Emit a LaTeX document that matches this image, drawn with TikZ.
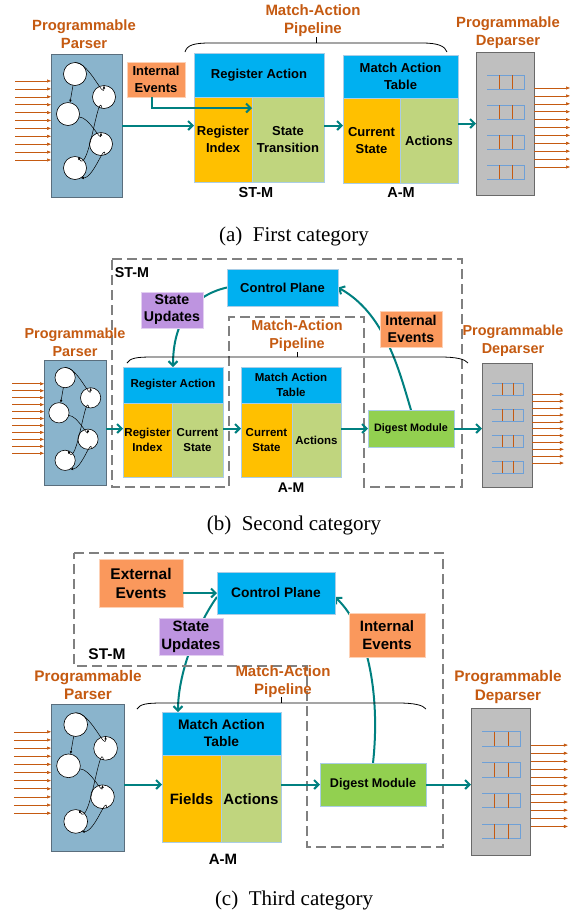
\documentclass[tikz,border=0pt]{standalone}
\usepackage{fontspec}
\setmainfont{Liberation Serif}
\newfontfamily\labelfont{Liberation Sans}
\usetikzlibrary{arrows.meta}
\pgfdeclarelayer{back}
\pgfsetlayers{back,main}

\definecolor{cpblue}{RGB}{0,176,240}
\definecolor{keyorange}{RGB}{255,192,0}
\definecolor{valgreen}{RGB}{192,213,126}
\definecolor{digestgreen}{RGB}{146,208,80}
\definecolor{eventorange}{RGB}{250,152,92}
\definecolor{updpurple}{RGB}{190,148,224}
\definecolor{parserblue}{RGB}{138,180,204}
\definecolor{parseredge}{RGB}{90,110,125}
\definecolor{depgray}{RGB}{191,191,191}
\definecolor{depedge}{RGB}{105,105,105}
\definecolor{flowteal}{RGB}{0,128,128}
\definecolor{rust}{RGB}{197,90,17}
\definecolor{queueblue}{RGB}{110,160,215}
\definecolor{celledge}{RGB}{170,205,230}
\definecolor{dashgray}{RGB}{128,128,128}

\newcommand\sansat[2]{\labelfont\fontsize{#1}{#2}\selectfont\bfseries}

\tikzset{
  every node/.style={inner sep=0pt, outer sep=0pt},
  cell/.style={draw=celledge, line width=0.7pt, align=center, text=black},
  evt/.style={fill=eventorange, draw=white!55!eventorange, line width=0.7pt, align=center},
  upd/.style={fill=updpurple, draw=white!55!updpurple, line width=0.7pt, align=center},
  title/.style={text=rust, align=center},
  tag/.style={text=black},
  flow/.style={draw=flowteal, line width=2pt, -{Straight Barb[length=4.5pt,width=9pt]}},
  region/.style={draw=dashgray, line width=1.4pt, dash pattern=on 10pt off 5pt},
  brace/.style={draw=black, line width=0.8pt},
  feed/.style={draw=rust, line width=0.6pt, -{Triangle[length=4pt,width=3pt]}},
  state/.style={circle, draw=black, line width=0.6pt, fill=white, minimum size=23pt},
  hop/.style={draw=black, line width=0.5pt, -{Latex[length=3pt,width=2.5pt]}},
  caption/.style={font=\fontsize{21}{24}\selectfont},
  pics/parser/.style={code={
    \node[draw=parseredge, line width=0.8pt, fill=parserblue, minimum width=71pt,
          minimum height=143pt, anchor=north west] (-box) at (0,0) {};
    \node[state] (-c1) at (24,20) {};
    \node[state] (-c2) at (53,43) {};
    \node[state] (-c3) at (17,60) {};
    \node[state] (-c4) at (50,90) {};
    \node[state] (-c5) at (24,114) {};
    \draw[hop] (-c1.north) to[out=0,in=270] (-c2.north);
    \draw[hop] (-c1) -- (-c3);
    \draw[hop] (-c3.-15) to[out=0,in=270] (-c4.north);
    \draw[hop] (-c2.-100) to[out=100,in=300] (-c5.75);
    \draw[hop] (-c4.-70) to[out=90,in=0] (-c5.-60);
    \foreach \k in {0,...,10} \draw[feed] (-36,{27+7.9*\k}) -- (0,{27+7.9*\k});
  }},
  pics/deparser/.style={code={
    \node[draw=depedge, line width=0.8pt, fill=depgray, minimum width=58pt,
          minimum height=143pt, anchor=north west] (-box) at (0,0) {};
    \foreach \q in {30,60,90,120} {
      \draw[queueblue, line width=1pt] (11,\q-7) -- (48,\q-7) -- (48,\q+7) -- (11,\q+7);
      \draw[rust, line width=1pt] (23,\q-7) -- (23,\q+7) (36,\q-7) -- (36,\q+7);
    }
    \foreach \k in {0,...,10} \draw[feed] (58,{36+7.9*\k}) -- (94,{36+7.9*\k});
  }},
}

\begin{document}
\begin{tikzpicture}[x=1pt,y=-1pt]
\begin{pgfonlayer}{back}
  \fill[white] (0,0) rectangle (584,914);
\end{pgfonlayer}
\useasboundingbox (0,0) rectangle (584,914);

% ---------------- (a) First category ----------------
\node[title, font=\sansat{14.8}{18}] (parsera) at (84,34.5) {Programmable\\Parser};
\pic (pa) at (51,54) {parser};
\node[title, font=\sansat{14.8}{18}] (depa) at (508,33) {Programmable\\Deparser};
\pic (da) at (476,52) {deparser};
\node[title, font=\sansat{15}{18}] (mapa) at (313,21) {Match-Action\\Pipeline};
\draw[brace] (185,52) .. controls (187,45) and (194,43) .. (210,43) -- (422,43)
             .. controls (438,43) and (445,46) .. (447,52);
\draw[brace] (316,43) -- (316,37);

\node[evt, minimum width=58pt, minimum height=35pt, font=\sansat{13}{16.5}] (iea) at (156,79.5) {Internal\\Events};
\node[cell, fill=cpblue, minimum width=130pt, minimum height=44pt, font=\sansat{13}{16.5}] (raa) at (259,75) {Register Action};
\node[cell, fill=keyorange, minimum width=58pt, minimum height=85pt, font=\sansat{13}{16.5}] (ria) at (223,139.5) {Register\\Index};
\node[cell, fill=valgreen, minimum width=72pt, minimum height=85pt, font=\sansat{13}{16.5}] (sta) at (288,139.5) {State\\Transition};
\node[tag, font=\sansat{14.5}{17}] (stma) at (256,193) {ST-M};
\node[cell, fill=cpblue, minimum width=115pt, minimum height=43pt, font=\sansat{13}{16.5}] (mata) at (400.5,76.5) {Match Action\\Table};
\node[cell, fill=keyorange, minimum width=57pt, minimum height=85pt, font=\sansat{13}{16.5}] (csa) at (371.5,140.5) {Current\\State};
\node[cell, fill=valgreen, minimum width=58pt, minimum height=85pt, font=\sansat{13}{16.5}] (aca) at (429,140.5) {Actions};
\node[tag, font=\sansat{14.5}{17}] (ama) at (401,193) {A-M};

\draw[flow] (pa-box.east) -- (pa-box.east -| ria.west);
\draw[flow] ([xshift=-4pt]iea.south) |- ([yshift=31.5pt]sta.west);
\draw[flow] (sta.east |- pa-box.east) -- (csa.west |- pa-box.east);
\draw[flow] (aca.east |- da-box.west) -- (da-box.west);

\node[caption] (capa) at (294,236) {(a)\hspace{0.5em}First category};

% ---------------- (b) Second category ----------------
\draw[region] (112,259) -- (462,259) -- (462,487) -- (364,487) -- (364,317)
              -- (229,317) -- (229,487) -- (112,487) -- cycle;
\node[tag, font=\sansat{14.3}{17}] (stmb) at (132,273) {ST-M};
\node[cell, fill=cpblue, minimum width=111pt, minimum height=37pt, font=\sansat{13}{16}] (cpb) at (282.5,287.5) {Control Plane};
\node[upd, minimum width=62pt, minimum height=36pt, font=\sansat{14.2}{17}] (sub) at (172,310) {State\\Updates};
\node[evt, minimum width=62pt, minimum height=36pt, font=\sansat{14.2}{17}] (ieb) at (411,329) {Internal\\Events};
\node[title, font=\sansat{14.4}{17.5}] (mapb) at (297,336) {Match-Action\\Pipeline};
\node[title, font=\sansat{14.4}{18}] (parserb) at (75,342) {Programmable\\Parser};
\node[title, font=\sansat{14.4}{18}] (depb) at (513,341) {Programmable\\Deparser};
\pic[scale=0.88, transform shape] (pb) at (44,360) {parser};
\pic[scale=0.87, transform shape] (db) at (482,363) {deparser};
\draw[brace] (127,363) .. controls (130,358) and (137,357) .. (152,357) -- (440,357)
             .. controls (456,357) and (465,359) .. (468,363);
\draw[brace] (297,357) -- (297,352);

\node[cell, fill=cpblue, minimum width=100pt, minimum height=36pt, font=\sansat{11.5}{14.5}] (rab) at (173,385) {Register Action};
\node[cell, fill=keyorange, minimum width=49pt, minimum height=74pt, font=\sansat{11.5}{14.5}] (rib) at (147.5,440) {Register\\Index};
\node[cell, fill=valgreen, minimum width=51pt, minimum height=74pt, font=\sansat{11.5}{14.5}] (csb) at (197.5,440) {Current\\State};
\node[cell, fill=cpblue, minimum width=100pt, minimum height=36pt, font=\sansat{11.5}{14.5}] (matb) at (291,385) {Match Action\\Table};
\node[cell, fill=keyorange, minimum width=51pt, minimum height=74pt, font=\sansat{11.5}{14.5}] (cmb) at (266.5,440) {Current\\State};
\node[cell, fill=valgreen, minimum width=49pt, minimum height=74pt, font=\sansat{11.5}{14.5}] (acb) at (316.5,440) {Actions};
\node[tag, font=\sansat{14}{17}] (amb) at (291,488) {A-M};
\node[cell, fill=digestgreen, minimum width=86pt, minimum height=37pt, font=\sansat{10.8}{13}] (dgb) at (411,428.5) {Digest Module};

\draw[flow] (pb-box.east |- dgb.west) -- (rib.west |- dgb.west);
\draw[flow] (csb.east |- dgb.west) -- (cmb.west |- dgb.west);
\draw[flow] (acb.east |- dgb.west) -- (dgb.west);
\draw[flow] (dgb.east) -- (dgb.east -| db-box.west);
\begin{pgfonlayer}{back}
  \draw[flow] (cpb.west) .. controls +(-35,8) and +(0,-45) .. (rab.north);
  \draw[flow] (dgb.north) .. controls +(-12,-40) and +(47,26) .. (cpb.east);
\end{pgfonlayer}

\node[caption] (capb) at (294,525) {(b)\hspace{0.5em}Second category};

% ---------------- (c) Third category ----------------
\draw[region] (74,553) -- (443,553) -- (443,847) -- (307,847) -- (307,666)
              -- (74,666) -- cycle;
\node[evt, minimum width=84pt, minimum height=48pt, font=\sansat{15.5}{19}] (eec) at (141,583) {External\\Events};
\node[cell, fill=cpblue, minimum width=118pt, minimum height=42pt, font=\sansat{13.8}{17}] (cpc) at (276,593) {Control Plane};
\node[upd, minimum width=64pt, minimum height=37pt, font=\sansat{15}{18}] (suc) at (191,636.5) {State\\Updates};
\node[evt, minimum width=76pt, minimum height=44pt, font=\sansat{15}{18.5}] (iec) at (387,635) {Internal\\Events};
\node[tag, font=\sansat{15.5}{18}] (stmc) at (107,654) {ST-M};
\node[title, font=\sansat{15.3}{18}] (parserc) at (88,685) {Programmable\\Parser};
\node[title, font=\sansat{15}{18}] (mapc) at (283,682) {Match-Action\\Pipeline};
\node[title, font=\sansat{15.3}{19}] (depc) at (508,687) {Programmable\\Deparser};
\pic[scale=1.03, transform shape] (pc) at (51,704) {parser};
\pic[scale=1.03, transform shape] (dc) at (471,708) {deparser};
\draw[brace] (137,709) .. controls (140,704) and (147,703) .. (162,703) -- (398,703)
             .. controls (414,703) and (423,705) .. (426,709);
\draw[brace] (281,703) -- (281,697);

\node[cell, fill=cpblue, minimum width=119pt, minimum height=43pt, font=\sansat{13.8}{17}] (matc) at (221.5,733.5) {Match Action\\Table};
\node[cell, fill=keyorange, minimum width=59pt, minimum height=87pt, font=\sansat{15}{18}] (fdc) at (191.5,799) {Fields};
\node[cell, fill=valgreen, minimum width=60pt, minimum height=87pt, font=\sansat{15}{18}] (acc) at (251,799) {Actions};
\node[tag, font=\sansat{15}{18}] (amc) at (223,859) {A-M};
\node[cell, fill=digestgreen, minimum width=106pt, minimum height=43pt, font=\sansat{12.6}{15}] (dgc) at (373,784.5) {Digest Module};

\draw[flow] (eec.east |- cpc.west) -- (cpc.west);
\draw[flow] (pc-box.east |- dgc.west) -- (fdc.west |- dgc.west);
\draw[flow] (acc.east |- dgc.west) -- (dgc.west);
\draw[flow] (dgc.east) -- (dgc.east -| dc-box.west);
\begin{pgfonlayer}{back}
  \draw[flow] ([yshift=-4pt]cpc.west) .. controls +(-17,23) and +(0,-42) .. ([xshift=16pt]matc.north west);
  \draw[flow] (dgc.north) .. controls +(7,-63) and +(35,33) .. ([yshift=-4pt]cpc.east);
\end{pgfonlayer}

\node[caption] (capc) at (294,900) {(c)\hspace{0.5em}Third category};
\end{tikzpicture}
\end{document}
